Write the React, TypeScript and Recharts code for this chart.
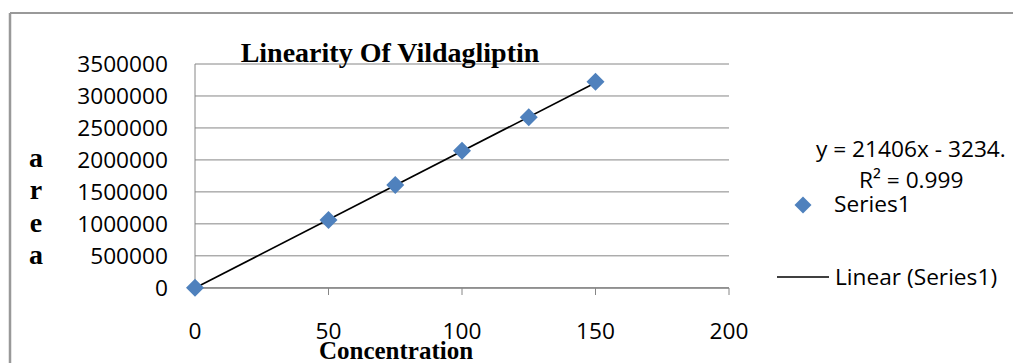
import React from "react";
import {
  ComposedChart,
  Scatter,
  Line,
  XAxis,
  YAxis,
  CartesianGrid,
} from "recharts";

const concentrations = [0, 50, 75, 100, 125, 150];
const areas = [0, 1062000, 1609000, 2145000, 2667000, 3222000];
const xTicks = [0, 50, 100, 150, 200];
const yTicks = [0, 500000, 1000000, 1500000, 2000000, 2500000, 3000000, 3500000];
const trendSlope = 21406;
const trendIntercept = -3234;
const trendRange = [0, 150];

const title = "Linearity Of Vildagliptin";
const xTitle = "Concentration";
const yTitleLetters = ["a", "r", "e", "a"];
const equationText = "y = 21406x - 3234.";
const r2Text = "R\u00B2 = 0.999";
const seriesName = "Series1";
const trendName = "Linear (Series1)";

const points = concentrations.map((c, i) => ({ x: c, y: areas[i] }));
const trendData = trendRange.map((x) => ({ x, t: trendSlope * x + trendIntercept }));

const BLUE = "#4F81BD";
const GRID = "#868686";
const SANS = "'Open Sans', sans-serif";
const SERIF = "'Liberation Serif', 'Times New Roman', serif";

const Diamond = (props: any) => {
  const { cx, cy } = props;
  const h = 9;
  return (
    <polygon
      points={`${cx},${cy - h} ${cx + h},${cy} ${cx},${cy + h} ${cx - h},${cy}`}
      fill={BLUE}
    />
  );
};

export default function App() {
  return (
    <div style={{ position: "absolute", left: 0, top: 0, width: 1013, height: 363, background: "#fff", overflow: "hidden" }}>
      <ComposedChart
        width={1013}
        height={363}
        margin={{ top: 64, right: 284, bottom: 0, left: 0 }}
      >
        <CartesianGrid vertical={false} stroke={GRID} strokeWidth={1} />
        <XAxis
          type="number"
          dataKey="x"
          domain={[0, 200]}
          ticks={xTicks}
          height={75}
          stroke={GRID}
          tickSize={7}
          tickMargin={28}
          tick={{ fill: "#000", fontSize: 22.7, fontFamily: SANS }}
          interval={0}
        />
        <YAxis
          type="number"
          domain={[0, 3500000]}
          ticks={yTicks}
          width={195}
          stroke={GRID}
          tickLine={false}
          tickSize={0}
          tickMargin={27}
          tick={{ fill: "#000", fontSize: 22.7, fontFamily: SANS }}
          interval={0}
        />
        <Scatter
          name={seriesName}
          data={points}
          dataKey="y"
          fill={BLUE}
          shape={Diamond}
          isAnimationActive={false}
        />
        <Line
          name={trendName}
          data={trendData}
          dataKey="t"
          stroke="#000"
          strokeWidth={1.6}
          dot={false}
          activeDot={false}
          isAnimationActive={false}
          type="linear"
        />
      </ComposedChart>
      <svg
        width={1013}
        height={363}
        style={{ position: "absolute", left: 0, top: 0, pointerEvents: "none" }}
      >
        <line x1={10} y1={13} x2={1013} y2={13} stroke="#999" strokeWidth={2} />
        <line x1={10} y1={13} x2={10} y2={363} stroke="#999" strokeWidth={2.5} />
        <text x={390} y={62} textAnchor="middle" fontFamily={SERIF} fontWeight="bold" fontSize={28} fill="#000">
          {title}
        </text>
        {yTitleLetters.map((l, i) => (
          <text key={i} x={36} y={167 + i * 32.4} textAnchor="middle" fontFamily={SERIF} fontWeight="bold" fontSize={28} fill="#000">
            {l}
          </text>
        ))}
        <text x={396} y={359} textAnchor="middle" fontFamily={SERIF} fontWeight="bold" fontSize={25} fill="#000">
          {xTitle}
        </text>
        <text x={816} y={157} fontFamily={SANS} fontSize={22.7} fill="#000">
          {equationText}
        </text>
        <text x={859} y={188} fontFamily={SANS} fontSize={22.7} fill="#000">
          {r2Text}
        </text>
        <polygon points="803,196.5 811.5,205 803,213.5 794.5,205" fill={BLUE} />
        <text x={834} y={211.5} fontFamily={SANS} fontSize={22.7} fill="#000">
          {seriesName}
        </text>
        <line x1={777} y1={277} x2={829} y2={277} stroke="#000" strokeWidth={1.6} />
        <text x={835} y={285} fontFamily={SANS} fontSize={22.7} fill="#000">
          {trendName}
        </text>
      </svg>
    </div>
  );
}
